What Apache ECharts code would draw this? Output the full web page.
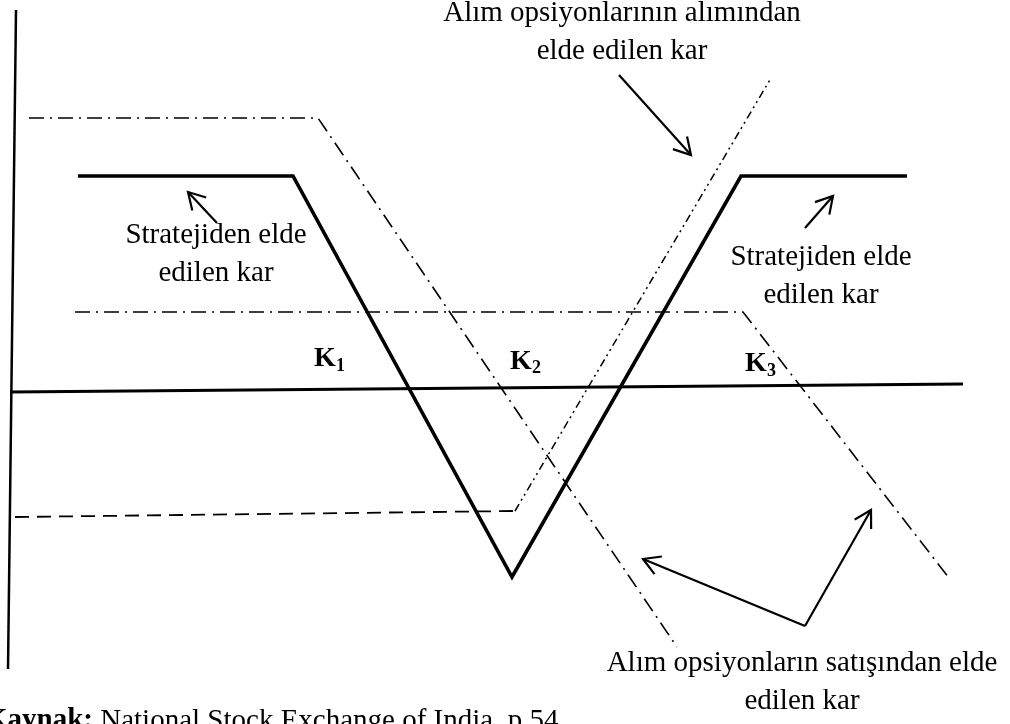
<!DOCTYPE html>
<html><head><meta charset="utf-8">
<script src="https://cdn.jsdelivr.net/npm/echarts@6/dist/echarts.min.js"></script>
<style>html,body{margin:0;padding:0;background:#fff}#c{width:1010px;height:724px}</style>
</head><body><div id="c"></div>
<script>
// Diagram units: x = underlying price, y = profit (0 = horizontal axis)
const verticalAxisX = [16, 8];
const verticalAxisP = [380, -279];
const horizontalAxisX = [10, 963];
const horizontalAxisP = [-2, 6];

// Strategy payoff (thick solid)
const strategyX = [78, 293, 512, 741, 907];
const strategyP = [214, 214, -187, 214, 214];

// Written call (upper) — dash-dot
const writtenCallAX = [29, 318, 677];
const writtenCallAP = [272, 272, -257];
// Written call (middle) — dash-dot
const writtenCallBX = [75, 743, 949];
const writtenCallBP = [78, 78, -188];
// Bought call — dashed flat part then dash-dot-dot rising part
const boughtCallFlatX = [15, 515];
const boughtCallFlatP = [-127, -121];
const boughtCallRiseX = [515, 771];
const boughtCallRiseP = [-121, 312];

// Annotation arrows: [tailX, tailP, headX, headP]
const arrows = [
  [619, 315, 691, 235],
  [217, 167, 188, 198],
  [805, 162, 833, 194],
  [805, -236, 643, -169],
  [805, -236, 871, -120]
];

// Text labels (centre x, middle profit level)
const labelText = ['Alım opsiyonlarının alımından', 'elde edilen kar', 'Stratejiden elde', 'edilen kar',
  'Stratejiden elde', 'edilen kar', 'Alım opsiyonların satışından elde', 'edilen kar'];
const labelX = [622, 622, 216, 216, 821, 821, 802, 802];
const labelP = [377, 339, 155, 117, 133, 95, -273, -311];

// Strike labels
const strikeText = ['K', 'K', 'K'];
const strikeSub = ['1', '2', '3'];
const strikeX = [314, 510, 745];
const strikeP = [31.5, 28.5, 26.5];
const strikeSubX = [336, 532, 767];
const strikeSubP = [24, 22, 19];

const sourceText = '{b|Kaynak:} National Stock Exchange of India, p.54';

const FONT = '"Liberation Serif", "Times New Roman", serif';
const zip = (xs, ys) => xs.map((x, i) => [x, ys[i]]);

function lineSeries(xs, ys, width, type, z) {
  return {
    type: 'line', data: zip(xs, ys), symbol: 'none', silent: true, z: z || 2,
    lineStyle: { color: '#000', width: width, type: type, cap: 'butt', join: 'miter' },
    animation: false
  };
}

const chart = echarts.init(document.getElementById('c'), null, { renderer: 'canvas' });
chart.setOption({
  backgroundColor: '#fff',
  animation: false,
  grid: { left: 0, right: 0, top: 0, bottom: 0 },
  xAxis: { type: 'value', min: 0, max: 1010, show: false },
  yAxis: { type: 'value', min: -334, max: 390, show: false },
  series: [
    lineSeries(verticalAxisX, verticalAxisP, 2.5, 'solid', 3),
    lineSeries(horizontalAxisX, horizontalAxisP, 3, 'solid', 3),
    lineSeries(writtenCallAX, writtenCallAP, 1.6, [15, 6, 2, 6]),
    lineSeries(writtenCallBX, writtenCallBP, 1.6, [15, 6, 2, 6]),
    lineSeries(boughtCallFlatX, boughtCallFlatP, 1.8, [14, 8]),
    lineSeries(boughtCallRiseX, boughtCallRiseP, 1.5, [8, 4, 2, 4, 2, 4]),
    lineSeries(strategyX, strategyP, 3.6, 'solid', 4),
    {
      type: 'custom', silent: true, z: 5,
      data: arrows,
      renderItem: function (params, api) {
        const a = api.coord([api.value(0), api.value(1)]);
        const b = api.coord([api.value(2), api.value(3)]);
        const ang = Math.atan2(b[1] - a[1], b[0] - a[0]);
        const L = 19, h = Math.PI / 6;
        const w1 = [b[0] - L * Math.cos(ang - h), b[1] - L * Math.sin(ang - h)];
        const w2 = [b[0] - L * Math.cos(ang + h), b[1] - L * Math.sin(ang + h)];
        return {
          type: 'group', children: [
            { type: 'line', shape: { x1: a[0], y1: a[1], x2: b[0], y2: b[1] }, style: { stroke: '#000', lineWidth: 2.2 } },
            { type: 'polyline', shape: { points: [w1, b, w2] }, style: { stroke: '#000', lineWidth: 2.2, fill: null } }
          ]
        };
      }
    },
    {
      type: 'custom', silent: true, z: 6,
      data: zip(labelX, labelP),
      renderItem: function (params, api) {
        const p = api.coord([api.value(0), api.value(1)]);
        return {
          type: 'text', x: p[0], y: p[1],
          style: { text: labelText[params.dataIndex], font: '29px ' + FONT, fill: '#000', align: 'center', verticalAlign: 'middle' }
        };
      }
    },
    {
      type: 'custom', silent: true, z: 6,
      data: zip(strikeX, strikeP),
      renderItem: function (params, api) {
        const p = api.coord([api.value(0), api.value(1)]);
        return {
          type: 'text', x: p[0], y: p[1],
          style: { text: strikeText[params.dataIndex], font: 'bold 28px ' + FONT, fill: '#000', align: 'left', verticalAlign: 'middle' }
        };
      }
    },
    {
      type: 'custom', silent: true, z: 6,
      data: zip(strikeSubX, strikeSubP),
      renderItem: function (params, api) {
        const p = api.coord([api.value(0), api.value(1)]);
        return {
          type: 'text', x: p[0], y: p[1],
          style: { text: strikeSub[params.dataIndex], font: 'bold 18px ' + FONT, fill: '#000', align: 'left', verticalAlign: 'middle' }
        };
      }
    }
  ],
  graphic: [{
    type: 'text', x: -15, y: 721, silent: true,
    style: {
      text: sourceText, font: '29px ' + FONT, fill: '#000', verticalAlign: 'middle',
      rich: { b: { fontWeight: 'bold', fontSize: 29, fontFamily: FONT } }
    }
  }]
});
</script></body></html>
